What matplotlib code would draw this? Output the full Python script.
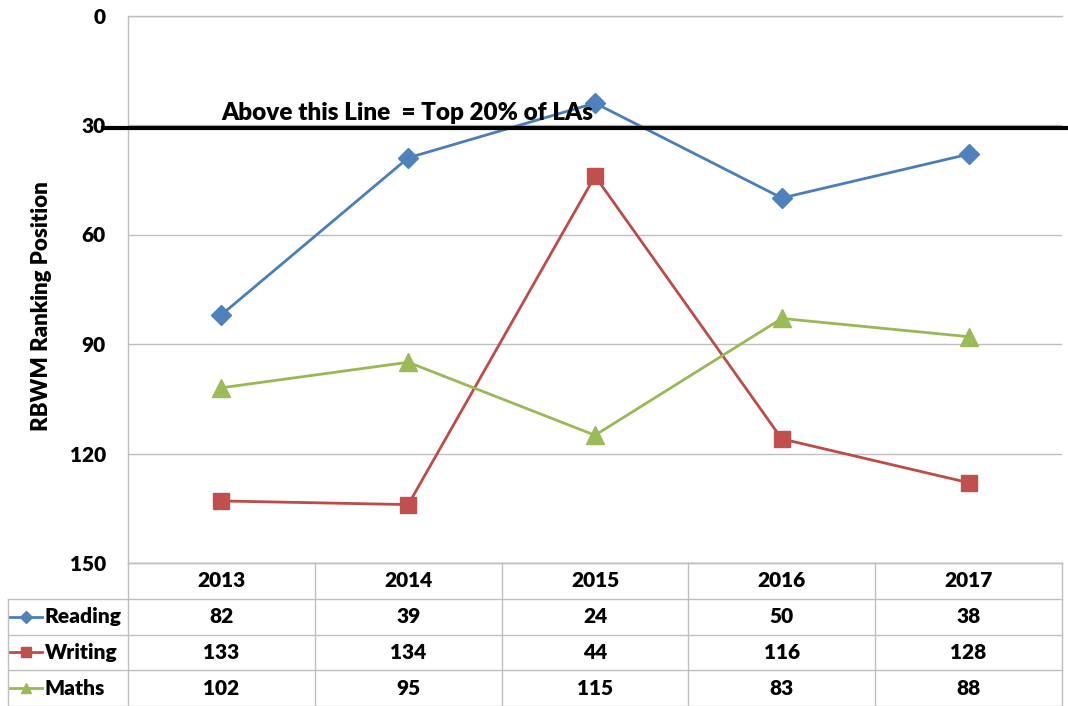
import matplotlib
matplotlib.use("Agg")
import matplotlib.pyplot as plt
import matplotlib.transforms as mtransforms

years = ["2013", "2014", "2015", "2016", "2017"]
reading = [82, 39, 24, 50, 38]
writing = [133, 134, 44, 116, 128]
maths = [102, 95, 115, 83, 88]
y_ticks = [0, 30, 60, 90, 120, 150]
threshold = 30
threshold_label = "Above this Line  = Top 20% of LAs"

series = [
    ("Reading", reading, "#4A7EBB", "#4F81BD", "D", 10),
    ("Writing", writing, "#BE4B48", "#C0504D", "s", 12),
    ("Maths", maths, "#98B954", "#9BBB59", "^", 13),
]

plt.rcParams["font.family"] = ["Lato", "DejaVu Sans"]
BOLD = "heavy"
plt.rcParams["font.weight"] = BOLD

W, H = 1068, 706
fig = plt.figure(figsize=(W / 100, H / 100), dpi=100)
grid_c = "#BFBFBF"

ax = fig.add_axes([128 / W, 143 / H, 934 / W, (563 - 15.5) / H])
x = list(range(len(years)))
for name, vals, lc, mc, mk, ms in series:
    ax.plot(x, vals, color=lc, linewidth=2, marker=mk, markersize=ms,
            markerfacecolor=mc, markeredgecolor=mc, zorder=3)

ax.set_xlim(-0.5, len(years) - 0.5)
ax.set_ylim(150, 0)
ax.set_yticks(y_ticks)
ax.set_xticks([])
ax.tick_params(axis="y", length=0, pad=16, labelsize=15)
for lab in ax.get_yticklabels():
    lab.set_fontweight(BOLD)
ax.grid(axis="y", color=grid_c, linewidth=1)
for s in ["top", "left", "bottom"]:
    ax.spines[s].set_color(grid_c)
    ax.spines[s].set_linewidth(1)
ax.spines["right"].set_visible(False)

# threshold line running past the axes
tr = mtransforms.blended_transform_factory(fig.transFigure, ax.transData)
ax.plot([103 / W, 1.0], [threshold + 0.8, threshold + 0.8], transform=tr,
        color="black", linewidth=3, clip_on=False, zorder=4)
ax.text(0, threshold - 0.4, threshold_label, ha="left", va="bottom",
        fontsize=17.5, fontweight=BOLD, zorder=5)

fig.text(42 / W, 1 - 306 / H, "RBWM Ranking Position", rotation=90,
         ha="center", va="center", fontsize=16, fontweight=BOLD)

# data table under the chart
tab = fig.add_axes([128 / W, 0, 934 / W, 143 / H])
tab.set_xlim(-0.5, len(years) - 0.5)
tab.set_ylim(4, 0)
tab.axis("off")
left = -0.5 - 120 / 186.8
kw = dict(color=grid_c, linewidth=1, clip_on=False)
tab.plot([-0.5, len(years) - 0.5], [0, 0], **kw)
for r in range(1, 5):
    tab.plot([left, len(years) - 0.5], [r, r], **kw)
for c in range(len(years) + 1):
    tab.plot([c - 0.5, c - 0.5], [0, 4], **kw)
tab.plot([left, left], [1, 4], **kw)

for i, yr in enumerate(years):
    tab.text(i, 0.5, yr, ha="center", va="center", fontsize=15, fontweight=BOLD)
for r, (name, vals, lc, mc, mk, ms) in enumerate(series, start=1):
    for i, v in enumerate(vals):
        tab.text(i, r + 0.5, str(v), ha="center", va="center", fontsize=15,
                 fontweight=BOLD)
    lx0 = left + 2 / 186.8
    lx1 = left + 34 / 186.8
    tab.plot([lx0, lx1], [r + 0.5, r + 0.5], color=lc, linewidth=2,
             clip_on=False)
    tab.plot([(lx0 + lx1) / 2], [r + 0.5], marker=mk, markersize=ms * 0.6,
             color=mc, clip_on=False)
    tab.text(left + 37 / 186.8, r + 0.5, name, ha="left", va="center",
             fontsize=15, fontweight=BOLD)

fig.savefig("out.png", dpi=100)
